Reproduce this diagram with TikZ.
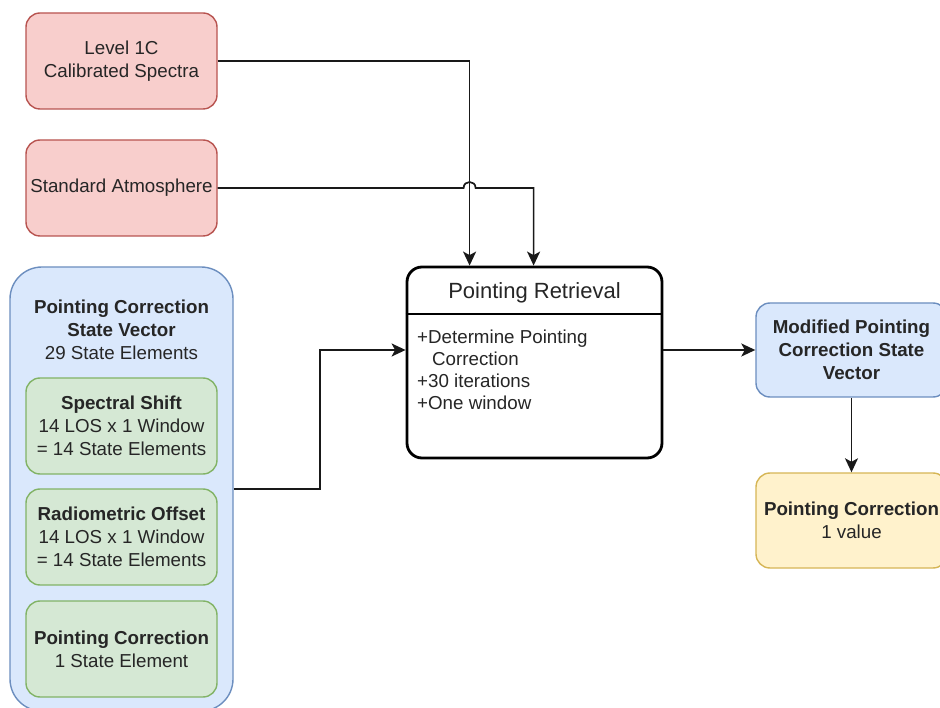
\documentclass[tikz,border=0pt]{standalone}
\usepackage{fontspec}
\setmainfont{Liberation Sans}
\usetikzlibrary{arrows.meta,calc}
\definecolor{redfill}{HTML}{F8CECC}
\definecolor{redline}{HTML}{B85450}
\definecolor{bluefill}{HTML}{DAE8FC}
\definecolor{blueline}{HTML}{6C8EBF}
\definecolor{greenfill}{HTML}{D5E8D4}
\definecolor{greenline}{HTML}{82B366}
\definecolor{yelfill}{HTML}{FFF2CC}
\definecolor{yelline}{HTML}{D6B656}
\definecolor{txtcol}{HTML}{262626}
\newcommand{\fsnorm}{\fontsize{18.75}{22.8}\selectfont}
\newcommand{\fshead}{\fontsize{22}{26}\selectfont}
\begin{document}
\begin{tikzpicture}[x=1pt,y=-1pt,
  box/.style={draw, rounded corners=14pt, line width=1.4pt, minimum width=191pt, minimum height=96pt, inner sep=0pt, align=center, text=txtcol, font=\fsnorm},
  redbox/.style={box, fill=redfill, draw=redline},
  bluebox/.style={box, fill=bluefill, draw=blueline},
  greenbox/.style={box, fill=greenfill, draw=greenline},
  yelbox/.style={box, fill=yelfill, draw=yelline},
  retrbox/.style={draw=black, line width=2.8pt, rounded corners=15pt, minimum width=255pt, minimum height=191pt, inner sep=0pt, fill=white},
  lbl/.style={inner sep=0pt, align=center, text=txtcol, font=\fsnorm},
  conn/.style={line width=1.7pt, draw=black!90},
  arr/.style={conn, -{Stealth[length=14pt,width=13pt,inset=3.5pt]}}
]
\clip (0,0) rectangle (940,708);
\useasboundingbox (0,0) rectangle (940,708);
\fill[white] (0,0) rectangle (940,708);

% input boxes
\node[redbox] (l1c) at (121.5,61) {Level 1C\\Calibrated Spectra};
\node[redbox] (atm) at (121.5,188) {Standard Atmosphere};

% state vector container
\node[bluebox, minimum width=223pt, minimum height=444pt, rounded corners=32pt] (psv) at (121.5,489) {};
\node[lbl] (psvt) at (121.5,330) {\textbf{Pointing Correction}\\\textbf{State Vector}\\29 State Elements};
\node[greenbox] (ss) at (121.5,426) {\textbf{Spectral Shift}\\14 LOS x 1 Window\\= 14 State Elements};
\node[greenbox] (ro) at (121.5,537) {\textbf{Radiometric Offset}\\14 LOS x 1 Window\\= 14 State Elements};
\node[greenbox] (pc) at (121.5,649) {\textbf{Pointing Correction}\\1 State Element};

% retrieval box
\node[retrbox] (pr) at (534.5,362.5) {};
\coordinate (dv) at (0,314);
\draw[line width=2.4pt] (dv -| pr.west) -- (dv -| pr.east);
\node[lbl, font=\fshead] (prt) at (534.5,293) {Pointing Retrieval};
\node[lbl, anchor=west, align=left, font=\fontsize{18.75}{22}\selectfont] (prb) at (417,370) {+Determine Pointing\\\hspace*{15pt}Correction\\+30 iterations\\+One window};

% outputs
\node[bluebox, minimum height=94pt] (mod) at (851.5,350) {\textbf{Modified Pointing}\\\textbf{Correction State}\\\textbf{Vector}};
\node[yelbox, minimum height=95pt] (out) at (851.5,520.5) {\textbf{Pointing Correction}\\1 value};

% connectors
\coordinate (t1) at ($(pr.north west)+(64,0)$);
\coordinate (t2) at ($(pr.north west)+(128,0)$);
\coordinate (j1) at ($(atm.east -| t1)+(-6,0)$);
\coordinate (j2) at ($(atm.east -| t1)+(6,0)$);
\coordinate (jc1) at ($(j1)+(0,-8)$);
\coordinate (jc2) at ($(j2)+(0,-8)$);
\draw[arr] (l1c.east) -| (t1);
\draw[arr] (atm.east) -- (j1) .. controls (jc1) and (jc2) .. (j2) -| (t2);
\coordinate (bend) at (320,350);
\draw[arr] (psv.east) -| (bend) -- (bend -| pr.west);
\draw[arr] (pr.east |- mod.west) -- (mod.west);
\draw[arr] (mod.south) -- (out.north);
\end{tikzpicture}
\end{document}
